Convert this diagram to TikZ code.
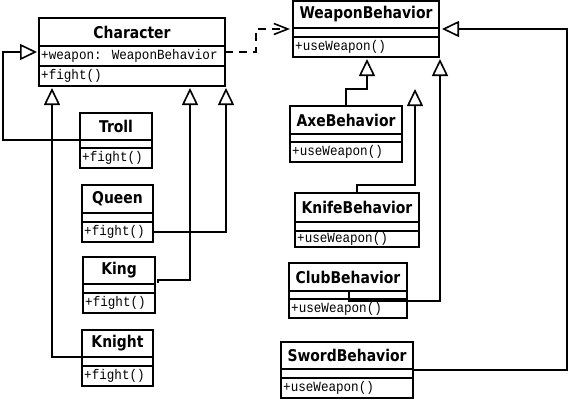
\documentclass[tikz,border=0pt]{standalone}
\usepackage{fontspec}
\setmainfont{DejaVu Sans}
\newfontfamily\titlef[FakeStretch=0.86]{DejaVu Sans}
\newfontfamily\monof[FakeStretch=0.9]{Liberation Mono}
\usetikzlibrary{arrows.meta}
\tikzset{
  classbox/.style={draw, line width=1.6pt, inner sep=0pt, outer sep=0pt, anchor=north west},
  divline/.style={line width=1.6pt},
  titletext/.style={inner sep=0pt, font=\titlef\fontsize{16.2}{18}\selectfont\bfseries},
  membertext/.style={inner sep=0pt, anchor=west, font=\monof\fontsize{14}{16}\selectfont},
  conn/.style={line width=1.6pt},
  gen/.style={conn, -{Triangle[open, length=17pt, width=16pt]}},
  dep/.style={conn, dash pattern=on 8pt off 6pt, -{Straight Barb[length=14pt, width=11pt]}},
}
\newcommand{\umlclass}[8]{%
  \node[classbox, minimum width={#4-#2}, minimum height={#5-#3}] (#1) at (#2,#3) {};
  \draw[divline] (#2,#6) -- (#4,#6) (#2,#7) -- (#4,#7);
  \node[titletext] (#1-title) at ({(#2+#4)/2},{(#3+#6)/2}) {#8};
}
\begin{document}
\begin{tikzpicture}[x=1pt,y=-1pt]
\fill[white] (0,0) rectangle (570,400);
\useasboundingbox (0,0) rectangle (570,400);

% classes
\umlclass{character}{39}{18}{225}{86}{46}{66}{Character}
\node[membertext] (character-attr) at (41,56) {+weapon: WeaponBehavior};
\node[membertext] (character-op) at (41,76) {+fight()};

\umlclass{troll}{80}{113}{152}{168}{140}{148}{Troll}
\node[membertext] (troll-op) at (82,158) {+fight()};

\umlclass{queen}{82}{185}{153}{242}{213}{222}{Queen}
\node[membertext] (queen-op) at (84,232) {+fight()};

\umlclass{king}{83}{257}{155}{313}{284}{293}{King}
\node[membertext] (king-op) at (85,303) {+fight()};

\umlclass{knight}{82}{330}{153}{386}{357}{366}{Knight}
\node[membertext] (knight-op) at (84,376) {+fight()};

\umlclass{weapon}{293}{1}{439}{57}{28}{37}{WeaponBehavior}
\node[membertext] (weapon-op) at (295,47) {+useWeapon()};

\umlclass{axe}{290}{106}{402}{162}{134}{142}{AxeBehavior}
\node[membertext] (axe-op) at (292,152) {+useWeapon()};

\umlclass{knife}{295}{193}{419}{247}{222}{231}{KnifeBehavior}
\node[membertext] (knife-op) at (297,239) {+useWeapon()};

\umlclass{club}{289}{263}{407}{318}{291}{299}{ClubBehavior}
\node[membertext] (club-op) at (291,308.5) {+useWeapon()};

\umlclass{sword}{281}{342}{413}{398}{369}{378}{SwordBehavior}
\node[membertext] (sword-op) at (283,388) {+useWeapon()};

% generalizations to Character
\draw[gen] (troll.west |- 0,140) -| (3,52) -- (37,52);
\draw[gen] (queen.east |- 0,232) -| (226,88);
\draw[gen] ([xshift=3pt]king.east |- 0,283) -- ++(0,-3) -| (190,88);
\draw[gen] (knight.west |- 0,357) -| (52,88);

% dependency
\draw[dep] (character.east |- 0,52) -| (256,29) -- (290,29);

% generalizations to WeaponBehavior
\draw[gen] (axe.north -| 346,0) |- (367,89) -- (367,59);
\draw[gen] (knife.north -| 357,0) |- (415,185) -- (415,89);
\draw[gen] (club.center -| 349,0) |- (440,301) -- (440,59);
\draw[gen] (sword.east |- 0,370) -| (567,29) -- (442,29);
\end{tikzpicture}
\end{document}
